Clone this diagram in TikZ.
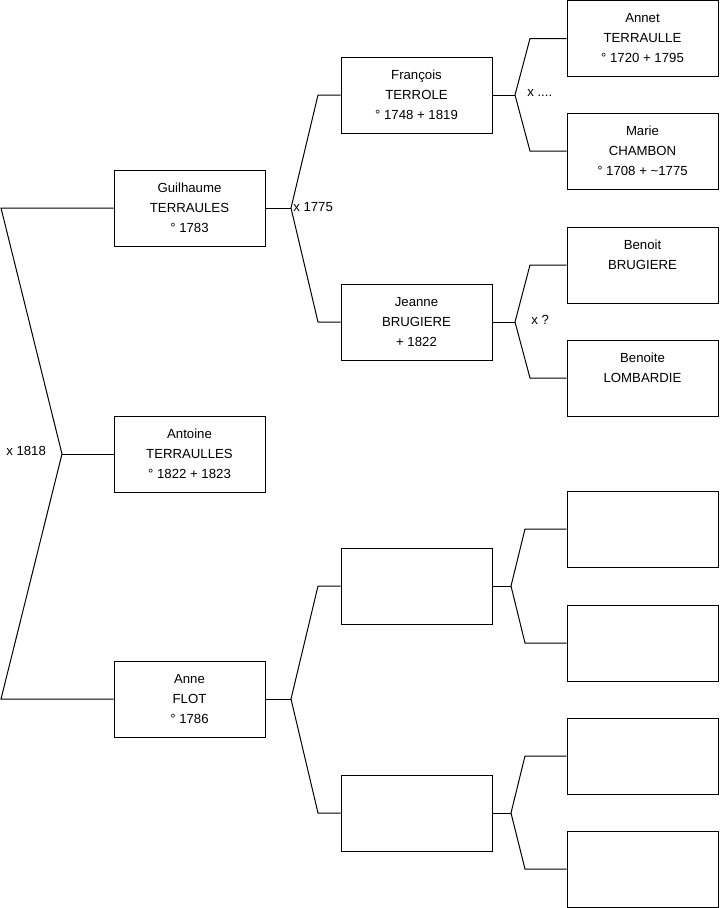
\documentclass[tikz,border=0pt]{standalone}
\usepackage{fontspec}
\setmainfont{Liberation Sans}
\begin{document}
\begin{tikzpicture}[x=0.75pt,y=-0.75pt,
    person/.style={draw, line width=0.75pt, minimum width=113.25pt, minimum height=57pt,
      inner sep=0pt, align=center, font=\fontsize{9.9}{15}\selectfont},
    lbl/.style={inner sep=0pt, anchor=west, font=\fontsize{9.9}{12}\selectfont},
    link/.style={line width=0.75pt}]
    \useasboundingbox (0,0) rectangle (719,908);

    % generation 1
    \node[person] (guil) at (189.5,208) {Guilhaume\\TERRAULES\\° 1783};
    \node[person] (antoine) at (189.5,454) {Antoine\\TERRAULLES\\° 1822 + 1823};
    \node[person] (anne) at (189.5,699) {Anne\\FLOT\\° 1786};

    % generation 2
    \node[person] (francois) at (416.5,95) {François\\TERROLE\\° 1748 + 1819};
    \node[person] (jeanne) at (416.5,322) {Jeanne\\BRUGIERE\\+ 1822};
    \node[person] (pa) at (416.5,586) {};
    \node[person] (ma) at (416.5,813) {};

    % generation 3
    \node[person] (annet) at (642.5,38.5) {Annet\\TERRAULLE\\° 1720 + 1795};
    \node[person] (marie) at (642.5,151) {Marie\\CHAMBON\\° 1708 + \textasciitilde1775};
    \node[person] (benoit) at (642.5,265) {Benoit\\BRUGIERE\\\mbox{}};
    \node[person] (benoite) at (642.5,378) {Benoite\\LOMBARDIE\\\mbox{}};
    \node[person] (ppa) at (642.5,529) {};
    \node[person] (pma) at (642.5,643) {};
    \node[person] (mpa) at (642.5,756) {};
    \node[person] (mma) at (642.5,869) {};

    % branches of the root couple
    \coordinate (rt) at (1,208);
    \coordinate (rv) at (62,454);
    \coordinate (rb) at (1,699);
    \draw[link] (guil.west) -- (rt) -- (rv) -- (rb) -- (anne.west);
    \draw[link] (rv) -- (antoine.west);
    \node[lbl] (m1818) at (6,451) {x 1818};

    % parents of Guilhaume
    \coordinate (gv) at (291,208);
    \coordinate (gu) at (318,95);
    \coordinate (gd) at (318,322);
    \draw[link] (guil.east) -- (gv);
    \draw[link] (francois.west) -- (gu) -- (gv) -- (gd) -- (jeanne.west);
    \node[lbl] (m1775) at (293,207) {x 1775};

    % parents of Anne
    \coordinate (av) at (291,699);
    \coordinate (au) at (318,586);
    \coordinate (ad) at (318,813);
    \draw[link] (anne.east) -- (av);
    \draw[link] (pa.west) -- (au) -- (av) -- (ad) -- (ma.west);

    % parents of François
    \coordinate (fv) at (515,95);
    \coordinate (fu) at (530,38.5);
    \coordinate (fd) at (530,151);
    \draw[link] (francois.east) -- (fv);
    \draw[link] (annet.west) -- (fu) -- (fv) -- (fd) -- (marie.west);
    \node[lbl] (mfr) at (527,93) {x ....};

    % parents of Jeanne
    \coordinate (jv) at (515,322);
    \coordinate (ju) at (530,265);
    \coordinate (jd) at (530,378);
    \draw[link] (jeanne.east) -- (jv);
    \draw[link] (benoit.west) -- (ju) -- (jv) -- (jd) -- (benoite.west);
    \node[lbl] (mje) at (531,320) {x ?};

    % parents of the empty boxes
    \coordinate (pv) at (511,586);
    \coordinate (pu) at (525,529);
    \coordinate (pd) at (525,643);
    \draw[link] (pa.east) -- (pv);
    \draw[link] (ppa.west) -- (pu) -- (pv) -- (pd) -- (pma.west);

    \coordinate (mv) at (511,813);
    \coordinate (mu) at (525,756);
    \coordinate (md) at (525,869);
    \draw[link] (ma.east) -- (mv);
    \draw[link] (mpa.west) -- (mu) -- (mv) -- (md) -- (mma.west);
\end{tikzpicture}
\end{document}
